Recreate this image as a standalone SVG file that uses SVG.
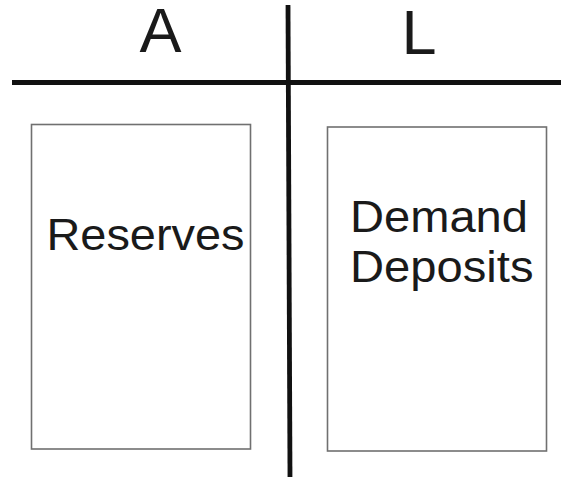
<svg xmlns="http://www.w3.org/2000/svg" width="561" height="478" viewBox="0 0 561 478">
<style>
.t{font-family:"Liberation Sans",Arial,sans-serif;fill:#1a1a1a}
.hd{font-size:63px}
.lb{font-size:45px}
.box{fill:#fff;stroke:#707070;stroke-width:1.6}
.ax{stroke:#111;stroke-width:4.8;fill:none}
</style>
<rect width="561" height="478" fill="#fff"/>
<g id="connectors">
<line class="ax" x1="12" y1="82.5" x2="561" y2="82.5"/>
<line class="ax" x1="288" y1="5" x2="290" y2="477"/>
</g>
<g id="header-A"><text class="t hd" x="160.5" y="52" text-anchor="middle">A</text></g>
<g id="header-L"><text class="t hd" x="419" y="54" text-anchor="middle">L</text></g>
<g id="reserves">
<rect class="box" x="31.5" y="124.5" width="219" height="324.5"/>
<text class="t lb" x="46.5" y="249.5" textLength="198" lengthAdjust="spacingAndGlyphs">Reserves</text>
</g>
<g id="demand-deposits">
<rect class="box" x="327.5" y="127" width="219" height="324"/>
<text class="t lb" x="350" y="231.7" textLength="178" lengthAdjust="spacingAndGlyphs">Demand</text>
<text class="t lb" x="350" y="281.7" textLength="183.5" lengthAdjust="spacingAndGlyphs">Deposits</text>
</g>
</svg>
